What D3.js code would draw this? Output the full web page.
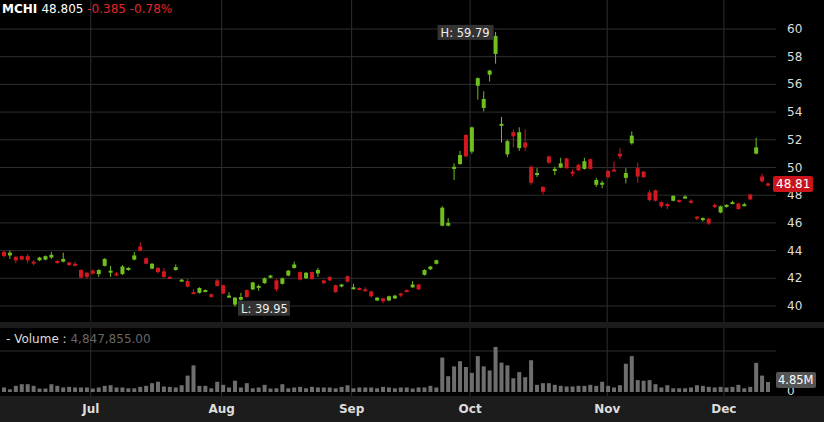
<!DOCTYPE html>
<html>
<head>
<meta charset="utf-8">
<script src="https://cdn.jsdelivr.net/npm/d3@7"></script>
<style>
  body { margin: 0; background: #000; }
  svg { display: block; font-family: Verdana, "DejaVu Sans", sans-serif; }
</style>
</head>
<body>
<svg id="chart" width="824" height="422"></svg>
<script>
// OHLC per trading day (mid June -> early Dec)
const opens = [43.9,43.65,43.55,43.6,43.6,43.2,43.3,43.35,43.5,43.25,43.2,43.15,43.05,42.6,42.4,42.55,42.3,42.9,42.45,42.35,
  42.3,42.6,43.35,44.3,43.45,42.7,42.75,42.5,42.1,42.6,41.85,41.8,41.0,40.95,41.05,40.85,41.85,41.5,40.65,40.1,
  40.45,41.15,41.2,41.35,41.65,42.05,41.85,41.6,42.2,42.75,42.45,42.0,42.45,42.35,41.85,42.1,41.5,41.45,42.15,41.25,
  41.3,41.2,41.05,40.4,40.55,40.4,40.55,40.9,41.15,41.35,41.55,42.25,42.65,43.05,45.8,45.8,49.9,50.25,52.35,51.15,
  55.9,54.3,56.7,58.2,53.1,50.95,52.55,51.4,51.8,50.05,49.5,48.6,50.8,49.75,50.0,50.65,49.7,50.2,49.9,50.6,
  48.75,48.85,49.75,49.85,51.0,49.25,51.75,49.95,49.7,48.2,48.35,47.5,47.35,47.6,47.65,47.8,47.6,46.45,46.2,46.3,
  47.3,46.75,47.2,47.4,47.4,47.25,48.05,51.0,49.35,48.85];
const closes = [43.6,43.85,43.3,43.35,43.3,43.1,43.5,43.6,43.7,43.1,43.4,42.95,42.95,42.05,42.1,42.35,42.6,43.4,42.55,42.25,
  42.85,42.75,43.65,44.0,43.05,43.05,42.45,42.1,42.0,42.8,41.9,41.4,40.9,41.3,41.15,40.65,41.45,40.9,40.75,40.6,
  40.65,40.65,41.7,41.45,42.0,42.2,41.2,42.0,42.55,43.0,41.9,42.4,41.95,42.6,41.65,41.85,41.0,41.55,41.75,41.35,
  41.2,41.1,40.7,40.6,40.35,40.7,40.75,40.8,41.05,41.55,41.2,42.6,42.85,43.3,47.1,46.0,50.05,50.9,50.8,52.9,
  56.45,54.95,57.0,59.5,53.15,51.9,52.25,52.55,51.45,48.9,49.6,48.25,50.35,49.9,50.3,49.95,49.6,49.8,50.45,49.9,
  49.1,48.9,49.3,49.75,50.8,49.6,52.3,49.35,49.3,47.65,47.6,47.2,47.25,47.95,47.55,47.9,47.5,46.35,46.35,45.95,
  47.2,47.2,47.3,47.5,47.0,47.35,47.7,51.45,49.0,48.81];
const highs = [44.0,44.0,43.6,43.65,43.75,43.3,43.55,43.65,43.9,43.3,43.85,43.2,43.2,42.65,42.45,42.65,42.65,43.45,42.9,42.45,
  42.95,42.8,43.9,44.6,43.5,43.1,42.8,42.75,42.15,43.0,41.95,41.95,41.2,41.35,41.2,40.9,41.95,41.55,41.0,40.65,
  40.95,41.2,41.75,41.55,42.05,42.25,41.95,42.05,42.6,43.2,42.5,42.45,42.5,42.75,41.9,42.15,41.55,41.6,42.2,41.6,
  41.35,41.35,41.1,40.65,40.6,40.75,40.8,40.95,41.2,41.8,41.6,42.65,42.9,43.35,47.2,46.35,50.3,51.2,52.4,52.95,
  56.5,55.5,57.05,59.79,53.65,52.0,52.75,52.9,52.75,50.15,49.95,48.65,50.85,50.05,50.7,50.7,49.85,50.25,50.7,50.65,
  49.25,49.05,49.8,50.45,51.4,49.95,52.6,50.35,49.75,48.35,48.4,47.55,47.45,48.0,47.7,48.0,47.7,46.5,46.4,46.35,
  47.4,47.25,47.35,47.6,47.45,47.45,48.1,52.15,49.55,48.9];
const lows = [43.5,43.4,43.1,43.3,43.1,42.95,43.25,43.3,43.4,43.05,43.15,42.9,42.85,42.0,42.0,42.25,42.1,42.85,42.1,42.15,
  42.25,42.55,43.3,43.95,43.0,42.65,42.35,42.0,41.95,42.55,41.8,41.35,40.85,40.9,41.0,40.6,41.4,40.85,40.6,39.95,
  40.4,40.6,41.15,41.1,41.6,42.0,41.05,41.55,42.15,42.7,41.85,41.95,41.9,42.1,41.55,41.8,40.95,41.35,41.7,41.2,
  41.15,41.05,40.6,40.35,40.2,40.35,40.5,40.65,41.0,41.3,41.15,42.2,42.6,43.0,45.75,45.75,49.1,50.2,50.75,51.0,
  54.9,54.05,56.2,57.5,51.8,50.75,51.45,51.2,51.2,48.75,49.3,48.05,50.25,49.45,49.95,49.9,49.35,49.75,49.85,49.85,
  48.6,48.5,49.25,49.7,50.6,48.85,51.65,48.9,49.25,47.55,47.55,47.05,47.0,47.55,47.45,47.75,47.4,46.2,46.1,45.85,
  47.05,46.7,47.1,47.35,46.95,47.2,47.65,50.95,48.9,48.6];
// daily volume, millions of shares
const volumes = [2.2,1.3,3.0,3.8,3.8,3.0,1.7,1.7,3.8,3.0,2.2,2.5,2.2,2.2,2.2,1.7,2.2,3.0,3.3,2.2,
  2.2,1.8,1.8,2.5,3.0,4.3,5.0,2.7,2.5,2.2,3.3,8.0,13.0,3.0,3.0,1.8,5.0,3.5,2.2,5.5,
  2.2,4.3,1.8,2.2,3.5,1.7,1.8,3.8,1.8,2.2,2.5,1.8,2.5,2.2,2.2,2.2,1.8,2.5,3.3,1.8,
  2.2,2.2,2.2,1.8,2.5,2.2,1.8,2.2,2.2,1.7,2.2,2.2,3.0,2.2,16.8,7.7,12.5,15.0,12.2,9.3,
  17.5,12.5,10.5,22.0,14.3,13.0,6.7,9.7,7.2,15.5,3.5,4.3,4.3,3.5,3.0,2.7,2.7,3.0,3.0,3.5,
  3.0,5.0,3.0,2.2,3.3,13.8,17.5,5.8,5.5,5.8,3.8,2.2,3.3,1.8,1.8,1.8,2.2,3.3,3.0,2.5,
  2.2,2.5,2.2,2.5,3.5,1.8,2.5,14.2,8.0,4.85];
const priceTicks = [40, 42, 44, 46, 48, 50, 52, 54, 56, 58, 60];
const monthLabels = ['Jul', 'Aug', 'Sep', 'Oct', 'Nov', 'Dec'];
const monthStarts = [14.65, 36.75, 58.7, 78.7, 101.85, 121.55]; // fractional bar index of 1st of month

const svg = d3.select('#chart');
const W = 824, H = 422;
const up = '#6fbf1f', down = '#d0181e', grid = '#2e2e2e';

const x = d3.scaleLinear().domain([0, opens.length - 1]).range([4, 768]);
const y = d3.scaleLinear().domain([40, 60]).range([306, 29]);
const yv = d3.scaleLinear().domain([0, 20]).range([392, 351]);

svg.append('rect').attr('width', W).attr('height', H).attr('fill', '#000');

// pane separator and bottom axis band
svg.append('rect').attr('x', 0).attr('y', 322).attr('width', W).attr('height', 6).attr('fill', '#1c1c1c');
svg.append('rect').attr('x', 0).attr('y', 396).attr('width', W).attr('height', 26).attr('fill', '#1c1c1c');

// price grid
svg.append('g').selectAll('line').data(priceTicks).join('line')
  .attr('x1', 0).attr('x2', 776).attr('y1', d => y(d)).attr('y2', d => y(d))
  .attr('stroke', grid);
svg.append('g').selectAll('line').data(monthStarts).join('line')
  .attr('x1', d => x(d)).attr('x2', d => x(d)).attr('y1', 0).attr('y2', 322)
  .attr('stroke', grid);
svg.append('g').selectAll('line').data(monthStarts).join('line')
  .attr('x1', d => x(d)).attr('x2', d => x(d)).attr('y1', 328).attr('y2', 396)
  .attr('stroke', grid);
svg.append('line').attr('x1', 0).attr('x2', 776).attr('y1', yv(20)).attr('y2', yv(20)).attr('stroke', grid);

// price axis labels
svg.append('g').selectAll('text').data(priceTicks).join('text')
  .attr('x', 787).attr('y', d => y(d) + 4)
  .attr('fill', '#ddd').attr('font-size', 12)
  .text(d => d);

// candles
const idx = d3.range(opens.length);
const c = svg.append('g').selectAll('g').data(idx).join('g');
const col = i => closes[i] >= opens[i] ? up : down;
c.append('line')
  .attr('x1', i => x(i)).attr('x2', i => x(i))
  .attr('y1', i => y(highs[i])).attr('y2', i => y(lows[i]))
  .attr('stroke', col).attr('stroke-width', 1);
c.append('rect')
  .attr('x', i => x(i) - 2).attr('width', 4)
  .attr('y', i => y(Math.max(opens[i], closes[i])))
  .attr('height', i => Math.max(2, Math.abs(y(opens[i]) - y(closes[i]))))
  .attr('fill', col);

// volume bars
svg.append('g').selectAll('rect').data(idx).join('rect')
  .attr('x', i => x(i) - 2).attr('width', 4)
  .attr('y', i => yv(volumes[i])).attr('height', i => yv(0) - yv(volumes[i]))
  .attr('fill', '#6e6e6e');

// month labels
svg.append('g').selectAll('text').data(monthLabels).join('text')
  .attr('x', (d, i) => x(monthStarts[i])).attr('y', 413)
  .attr('text-anchor', 'middle').attr('fill', '#ddd')
  .attr('font-size', 12).attr('font-weight', 'bold')
  .text(d => d);

// high / low labels
const hi = d3.maxIndex(highs), lo = d3.minIndex(lows);
function tag(tx, ty, txt, w) {
  svg.append('rect').attr('x', tx).attr('y', ty).attr('width', w).attr('height', 15).attr('fill', '#333');
  svg.append('text').attr('x', tx + 3).attr('y', ty + 12).attr('fill', '#eee').attr('font-size', 11.5).text(txt);
}
tag(x(hi) - 58, y(highs[hi]) - 7, 'H: ' + highs[hi], 56);
tag(x(lo) + 3, y(lows[lo]) - 6, 'L: ' + lows[lo].toFixed(2), 52);

// last price marker
const last = closes[closes.length - 1];
svg.append('rect').attr('x', 773).attr('y', y(last) - 8).attr('width', 40).attr('height', 16).attr('rx', 2).attr('fill', '#c8141a');
svg.append('text').attr('x', 776).attr('y', y(last) + 4.5).attr('fill', '#fff').attr('font-size', 12).text(last.toFixed(2));
svg.append('text').attr('x', 787).attr('y', 395).attr('fill', '#ddd').attr('font-size', 12).text('0');
svg.append('rect').attr('x', 776).attr('y', yv(4.85) - 10).attr('width', 40).attr('height', 16).attr('rx', 2).attr('fill', '#555');
svg.append('text').attr('x', 778).attr('y', yv(4.85) + 2).attr('fill', '#fff').attr('font-size', 11.5).text('4.85M');

// header
const hdr = svg.append('text').attr('x', 2).attr('y', 13).attr('font-size', 12);
hdr.append('tspan').attr('fill', '#fff').attr('font-weight', 'bold').text('MCHI ');
hdr.append('tspan').attr('fill', '#fff').text('48.805 ');
hdr.append('tspan').attr('fill', '#e0262b').text('-0.385 -0.78%');

const vl = svg.append('text').attr('x', 6).attr('y', 343).attr('font-size', 12);
vl.append('tspan').attr('fill', '#ddd').text('- Volume : ');
vl.append('tspan').attr('fill', '#666').text('4,847,855.00');
</script>
</body>
</html>
